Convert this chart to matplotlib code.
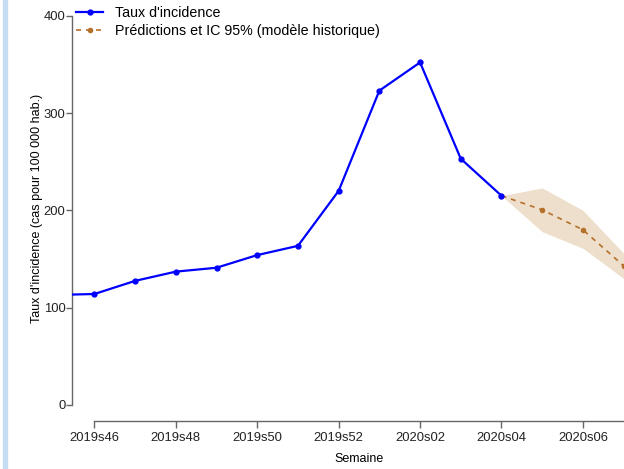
import numpy as np
import matplotlib.pyplot as plt
from matplotlib.patches import Rectangle

plt.rcParams['font.family'] = ['Liberation Sans', 'DejaVu Sans']
plt.rcParams['font.size'] = 9

semaines = ["2019s45", "2019s46", "2019s47", "2019s48", "2019s49", "2019s50", "2019s51",
            "2019s52", "2020s01", "2020s02", "2020s03", "2020s04", "2020s05", "2020s06", "2020s07"]
taux = [113, 114, 127.5, 137, 141, 154, 163.5, 220, 323, 352, 253, 215]
pred_sem = ["2020s04", "2020s05", "2020s06", "2020s07"]
pred = [215, 200.5, 180, 143]
ic_bas = [215, 178, 161, 130]
ic_haut = [215, 223, 200, 156]

x_obs = np.arange(len(taux))
x_pred = np.array([semaines.index(s) for s in pred_sem])

fig = plt.figure(figsize=(6.24, 4.69), dpi=100)
fig.patches.append(Rectangle((3/624, 0), 4/624, 1, transform=fig.transFigure,
                             color="#c6dcf2", zorder=0))
ax = fig.add_axes([72/624, 48/469, 574/624, 416/469])

ax.fill_between(x_pred, ic_bas, ic_haut, color="#eedfcd", lw=0, zorder=1)
ax.plot(x_pred, pred, color="#b5702a", lw=1.2, ls=(0, (3, 3)), marker="o", ms=3,
        label="Prédictions et IC 95% (modèle historique)", zorder=2)
ax.plot(x_obs, taux, color="#0000ff", lw=1.6, marker="o", ms=3.5,
        label="Taux d'incidence", zorder=3)

ax.set_xlim(0.45, 14.55)
ax.set_ylim(-16.5, 411)
ticks = list(range(1, 15, 2))
ax.set_xticks(ticks)
ax.set_xticklabels([semaines[i] for i in ticks])
ax.set_yticks([0, 100, 200, 300, 400])

for s in ["top", "right"]:
    ax.spines[s].set_visible(False)
ax.spines["left"].set_bounds(0, 400)
ax.spines["bottom"].set_bounds(1, 14.55)
for s in ["left", "bottom"]:
    ax.spines[s].set_color("#666666")
    ax.spines[s].set_linewidth(1)
ax.tick_params(axis="both", colors="#666666", labelcolor="#222222", width=1, labelsize=9.4)
ax.tick_params(axis="x", length=5, pad=3)
ax.tick_params(axis="y", length=4, pad=0.8)

ax.set_xlabel("Semaine")
ax.set_ylabel("Taux d'incidence (cas pour 100 000 hab.)")
ax.xaxis.set_label_coords((359 - 72) / 574, -0.078)
ax.yaxis.set_label_coords(-0.05, 0.512)

h, l = ax.get_legend_handles_labels()
ax.legend(h[::-1], l[::-1], loc="upper left", bbox_to_anchor=(76/624, 1 - 6/469),
          bbox_transform=fig.transFigure, frameon=False, borderpad=0, fontsize=10.3,
          handlelength=1.9, handletextpad=0.85, labelspacing=0.25, borderaxespad=0)

fig.savefig("out.png", dpi=100)
